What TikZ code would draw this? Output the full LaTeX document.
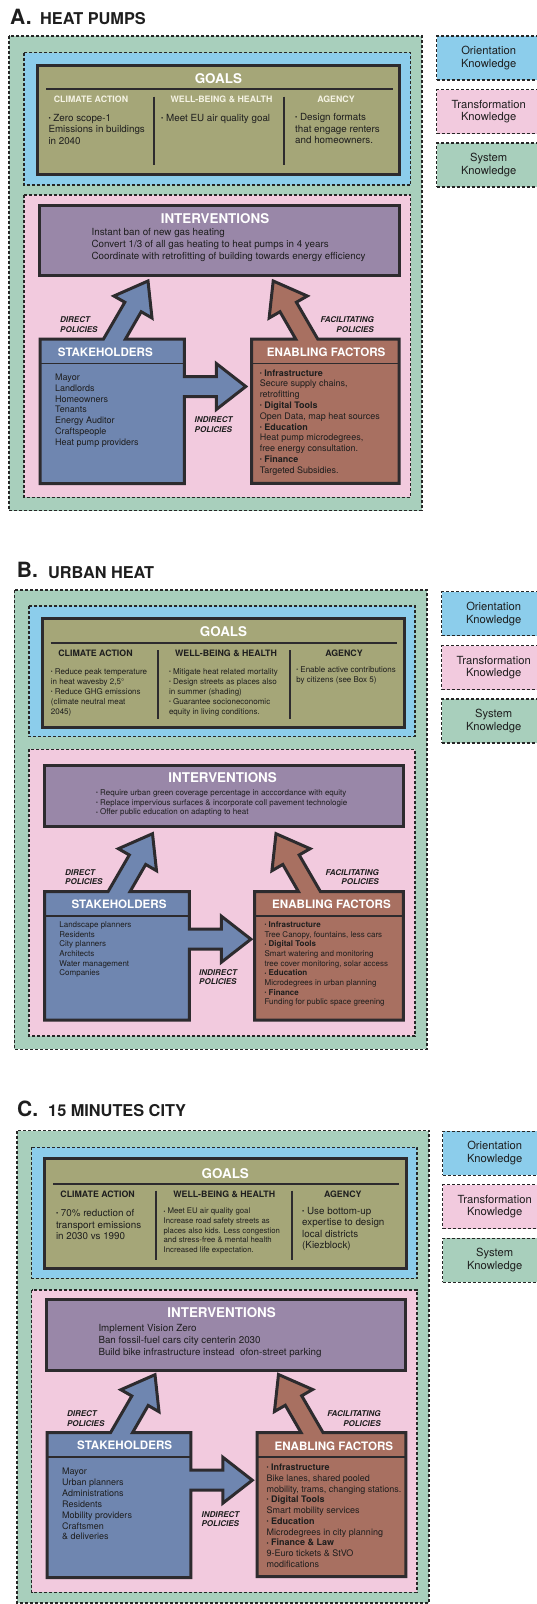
\documentclass[tikz,border=0pt]{standalone}
\usepackage{fontspec}
\setmainfont{TeX Gyre Heros}
\usepackage{xcolor}
\usetikzlibrary{positioning}

\definecolor{systemgreen}{RGB}{168,207,188}
\definecolor{orientblue}{RGB}{140,205,235}
\definecolor{transpink}{RGB}{242,202,222}
\definecolor{goalolive}{RGB}{165,166,120}
\definecolor{intpurple}{RGB}{153,135,168}
\definecolor{stakeblue}{RGB}{111,134,176}
\definecolor{enablebrown}{RGB}{168,112,97}
\definecolor{boxdark}{RGB}{45,43,46}
\definecolor{txt}{RGB}{30,30,30}
\definecolor{headwhite}{RGB}{245,243,228}

\newcommand{\fsz}[2]{\fontsize{#1}{#2}\selectfont}
\newcommand{\dotitem}{\raisebox{0.1em}{\scalebox{0.65}{\textbullet}}\ }

\tikzstyle{layer}=[draw=black!85, line width=1.3pt, dash pattern=on 3pt off 2pt]
\tikzstyle{boxline}=[draw=boxdark, line width=3pt]
\tikzstyle{sepline}=[draw=boxdark, line width=1.8pt]
\tikzstyle{legend}=[layer, anchor=west, minimum width=104pt, minimum height=44pt, align=center, text=txt, font=\fsz{11.2}{12.7}]
\tikzstyle{boxtitle}=[inner sep=0, text=white, font=\bfseries\fsz{13.4}{14}]
\tikzstyle{subtitle}=[inner sep=0, text=white, font=\bfseries\fsz{11.6}{12}]
\tikzstyle{colhead}=[inner sep=0, text=txt, font=\bfseries\fsz{8.8}{10}]
\tikzstyle{body}=[anchor=north west, inner sep=0, align=left, text=txt]
\tikzstyle{policy}=[inner sep=0, text=txt, font=\bfseries\itshape\fsz{8}{9.3}]
\tikzstyle{paneltag}=[anchor=base west, inner sep=0, text=txt, font=\bfseries\fsz{21}{22}]
\tikzstyle{panelname}=[anchor=base west, inner sep=0, text=txt, font=\bfseries\fsz{16.3}{17}]

% stakeholder box with direct (up) and indirect (right) arrows
\newcommand{\stakeshape}[4]{%
  \begin{scope}[shift={(#1,#2)}]
    \draw[boxline, fill=stakeblue] (0,0) -- (63.5,0) -- (84.8,-36.75) -- (73.9,-43) -- (108,-58)
      -- (112,-21) -- (101.2,-27.25) -- (85.5,0) -- (#3,0) -- (#3,37.5) -- ({#3+32},37.5)
      -- ({#3+32},24.5) -- ({#3+61.5},47.5) -- ({#3+32},70.5) -- ({#3+32},57.5) -- (#3,57.5)
      -- (#3,#4) -- (0,#4) -- cycle;
    \draw[sepline] (0,24.5) -- (#3,24.5);
  \end{scope}}
% enabling factors box with facilitating arrow
\newcommand{\enableshape}[4]{%
  \begin{scope}[shift={(#1,#2)}]
    \draw[boxline, fill=enablebrown] (0,0) -- (44,0) -- (28.3,-27.25) -- (17.45,-21) -- (21.5,-58)
      -- (55.6,-43) -- (44.7,-36.75) -- (66,0) -- (#3,0) -- (#3,#4) -- (0,#4) -- cycle;
    \draw[sepline] (0,24.5) -- (#3,24.5);
  \end{scope}}

\begin{document}
\begin{tikzpicture}[x=1pt,y=-1pt]
\useasboundingbox (0,0) rectangle (537,1604);
\clip (0,0) rectangle (537,1604);

% ---------------- A. heat pumps
\node[paneltag] (tagA) at (10,24) {A.};
\node[panelname] (nameA) at (40,24) {HEAT PUMPS};
\draw[layer, fill=systemgreen] (9,36) rectangle (422,510.7);
\draw[layer, fill=orientblue] (24,52.7) rectangle (410.7,185);
\draw[layer, fill=transpink] (24,195) rectangle (410.7,497.3);
\node[legend, fill=orientblue] (orientA) at (436,58) {Orientation\\Knowledge};
\node[legend, fill=transpink] (transA) at (436,111.5) {Transformation\\Knowledge};
\node[legend, fill=systemgreen] (systemA) at (436,165) {System\\Knowledge};

\draw[boxline, fill=goalolive] (37.7,65) rectangle (399,174);
\node[boxtitle] (goalsA) at (218.4,78.3) {GOALS};
\draw[sepline] (46,89.3) -- (393,89.3);
\draw[sepline] (153.7,96.7) -- (153.7,165) (284,96.7) -- (284,165);
\node[colhead, text=headwhite] (climA) at (91,99.7) {CLIMATE ACTION};
\node[colhead, text=headwhite] (wellA) at (221.5,99.7) {WELL-BEING \& HEALTH};
\node[colhead, text=headwhite] (agencyA) at (336,99.7) {AGENCY};
\node[body, font=\fsz{9.8}{11.7}] (climtxtA) at (48.3,113.8) {\dotitem Zero scope-1\\Emissions in buildings\\in 2040};
\node[body, font=\fsz{9.8}{11.7}] (welltxtA) at (161,113.8) {\dotitem Meet EU air quality goal};
\node[body, font=\fsz{9.8}{11.7}] (agencytxtA) at (295,113) {\dotitem Design formats\\that engage renters\\and homeowners.};

\draw[boxline, fill=intpurple] (39.4,205) rectangle (399,275.7);
\node[boxtitle] (intA) at (215,218.3) {INTERVENTIONS};
\node[body, font=\fsz{9.8}{12}] (inttxtA) at (91.4,228.4) {Instant ban of new gas heating\\Convert 1/3 of all gas heating to heat pumps in 4 years\\Coordinate with retrofitting of building towards energy efficiency};

\stakeshape{40}{339}{144.3}{144.5}
\node[subtitle] (stakeA) at (105.3,352.7) {STAKEHOLDERS};
\node[body, font=\fsz{9}{10.83}] (staketxtA) at (55,373.7) {Mayor\\Landlords\\Homeowners\\Tenants\\Energy Auditor\\Craftspeople\\Heat pump providers};
\enableshape{251.7}{339}{147.3}{144.3}
\node[subtitle] (enableA) at (326.2,352.7) {ENABLING FACTORS};
\node[body, font=\fsz{9}{10.77}] (enabletxtA) at (259.6,369.4) {\dotitem\textbf{Infrastructure}\\Secure supply chains,\\retrofitting\\\dotitem\textbf{Digital Tools}\\Open Data, map heat sources\\\dotitem\textbf{Education}\\Heat pump microdegrees,\\free energy consultation.\\\dotitem\textbf{Finance}\\Targeted Subsidies.};
\node[policy, anchor=north west, align=left] (directA) at (60,316.8) {DIRECT\\POLICIES};
\node[policy, anchor=north east, align=right] (facilA) at (374,316.8) {FACILITATING\\POLICIES};
\node[policy, anchor=north west, align=left] (indirectA) at (194.5,416.8) {INDIRECT\\POLICIES};

% ---------------- B. urban heat
\node[paneltag] (tagB) at (16.7,577.5) {B.};
\node[panelname] (nameB) at (48,578) {URBAN HEAT};
\draw[layer, fill=systemgreen] (14.4,590) rectangle (427,1049.3);
\draw[layer, fill=orientblue] (29,606) rectangle (415,736.7);
\draw[layer, fill=transpink] (29,749.3) rectangle (415,1036);
\node[legend, fill=orientblue] (orientB) at (441,613.8) {Orientation\\Knowledge};
\node[legend, fill=transpink] (transB) at (441,667.6) {Transformation\\Knowledge};
\node[legend, fill=systemgreen] (systemB) at (441,721.1) {System\\Knowledge};

\draw[boxline, fill=goalolive] (42.8,618) rectangle (404.1,727.3);
\node[boxtitle] (goalsB) at (223.5,631.7) {GOALS};
\draw[sepline] (50.7,642.7) -- (397.3,642.7);
\draw[sepline] (158.2,650) -- (158.2,719) (289.7,650) -- (289.7,719);
\node[colhead] (climB) at (95.5,653.3) {CLIMATE ACTION};
\node[colhead] (wellB) at (226,653.3) {WELL-BEING \& HEALTH};
\node[colhead] (agencyB) at (344,653.3) {AGENCY};
\node[body, font=\fsz{8}{10}] (climtxtB) at (50.7,668.5) {\dotitem Reduce peak temperature\\in heat wavesby 2,5°\\\dotitem Reduce GHG emissions\\(climate neutral meat\\2045)};
\node[body, font=\fsz{8}{10}] (welltxtB) at (168.8,668.5) {\dotitem Mitigate heat related mortality\\\dotitem Design streets as places also\\in summer (shading)\\\dotitem Guarantee socioneconomic\\equity in living conditions.};
\node[body, font=\fsz{8}{10}] (agencytxtB) at (296.2,666.5) {\dotitem Enable active contributions\\by citizens (see Box 5)};

\draw[boxline, fill=intpurple] (44,765) rectangle (403,826);
\node[boxtitle] (intB) at (222.6,777.7) {INTERVENTIONS};
\node[body, font=\fsz{8}{9.7}] (inttxtB) at (96,789.5) {\dotitem Require urban green coverage percentage in acccordance with equity\\\dotitem Replace impervious surfaces \& incorporate coll pavement technologie\\\dotitem Offer public education on adapting to heat};

\stakeshape{44.5}{891.7}{144.9}{128.3}
\node[subtitle] (stakeB) at (119,904.3) {STAKEHOLDERS};
\node[body, font=\fsz{8}{9.67}] (staketxtB) at (59.2,921.5) {Landscape planners\\Residents\\City planners\\Architects\\Water management\\Companies};
\enableshape{254.5}{891.7}{148.9}{128.3}
\node[subtitle] (enableB) at (331.5,904.3) {ENABLING FACTORS};
\node[body, font=\fsz{8}{9.67}] (enabletxtB) at (264.4,921.5) {\dotitem\textbf{Infrastructure}\\Tree Canopy, fountains, less cars\\\dotitem\textbf{Digital Tools}\\Smart watering and monitoring\\tree cover monitoring, solar access\\\dotitem\textbf{Education}\\Microdegrees in urban planning\\\dotitem\textbf{Finance}\\Funding for public space greening};
\node[policy, anchor=north west, align=left] (directB) at (65,869.5) {DIRECT\\POLICIES};
\node[policy, anchor=north east, align=right] (facilB) at (379,869.5) {FACILITATING\\POLICIES};
\node[policy, anchor=north west, align=left] (indirectB) at (199,969.5) {INDIRECT\\POLICIES};

% ---------------- C. 15 minutes city
\node[paneltag] (tagC) at (17,1116.7) {C.};
\node[panelname] (nameC) at (48,1116.5) {15 MINUTES CITY};
\draw[layer, fill=systemgreen] (17,1130.7) rectangle (429,1603);
\draw[layer, fill=orientblue] (31.5,1147.3) rectangle (417,1278.3);
\draw[layer, fill=transpink] (31.5,1290) rectangle (417,1592.3);
\node[legend, fill=orientblue] (orientC) at (442,1153.2) {Orientation\\Knowledge};
\node[legend, fill=transpink] (transC) at (442,1206.7) {Transformation\\Knowledge};
\node[legend, fill=systemgreen] (systemC) at (442,1260.2) {System\\Knowledge};

\draw[boxline, fill=goalolive] (44.5,1158.3) rectangle (406,1268.7);
\node[boxtitle] (goalsC) at (225.3,1173.3) {GOALS};
\draw[sepline] (53,1184) -- (399.3,1184);
\draw[sepline] (155.8,1190.7) -- (155.8,1260) (291.8,1190.7) -- (291.8,1260);
\node[colhead] (climC) at (97.6,1194.3) {CLIMATE ACTION};
\node[colhead] (wellC) at (224.3,1194.3) {WELL-BEING \& HEALTH};
\node[colhead] (agencyC) at (342.8,1194.3) {AGENCY};
\node[body, font=\fsz{9.8}{11.3}] (climtxtC) at (55.8,1209.4) {\dotitem 70\% reduction of\\transport emissions\\in 2030 vs 1990};
\node[body, font=\fsz{7.8}{9.7}] (welltxtC) at (163.4,1207.9) {\dotitem Meet EU air quality goal\\Increase road safety streets as\\places also kids. Less congestion\\and stress-free \& mental health\\Increased life expectation.};
\node[body, font=\fsz{9.8}{11.5}] (agencytxtC) at (302,1207.1) {\dotitem Use bottom-up\\expertise to design\\local districts\\(Kiezblock)};

\draw[boxline, fill=intpurple] (46.2,1299) rectangle (405.8,1370);
\node[boxtitle] (intC) at (221.6,1312.3) {INTERVENTIONS};
\node[body, font=\fsz{9.8}{12}] (inttxtC) at (98.3,1324.4) {Implement Vision Zero\\Ban fossil-fuel cars city centerin 2030\\Build bike infrastructure instead\ \ ofon-street parking};

\stakeshape{47}{1432.7}{143.8}{145}
\node[subtitle] (stakeC) at (124.7,1445.7) {STAKEHOLDERS};
\node[body, font=\fsz{9}{10.83}] (staketxtC) at (62,1468.1) {Mayor\\Urban planners\\Administrations\\Residents\\Mobility providers\\Craftsmen\\\& deliveries};
\enableshape{257}{1432.5}{148.8}{144.2}
\node[subtitle] (enableC) at (333.9,1446) {ENABLING FACTORS};
\node[body, font=\fsz{9}{10.78}] (enabletxtC) at (266.4,1463.7) {\dotitem\textbf{Infrastructure}\\Bike lanes, shared pooled\\mobility, trams, changing stations.\\\dotitem\textbf{Digital Tools}\\Smart mobility services\\\dotitem\textbf{Education}\\Microdegrees in city planning\\\dotitem\textbf{Finance \& Law}\\9-Euro tickets \& StVO\\modifications};
\node[policy, anchor=north west, align=left] (directC) at (66.8,1410.8) {DIRECT\\POLICIES};
\node[policy, anchor=north east, align=right] (facilC) at (380.8,1410.8) {FACILITATING\\POLICIES};
\node[policy, anchor=north west, align=left] (indirectC) at (201.4,1511.1) {INDIRECT\\POLICIES};
\end{tikzpicture}
\end{document}
